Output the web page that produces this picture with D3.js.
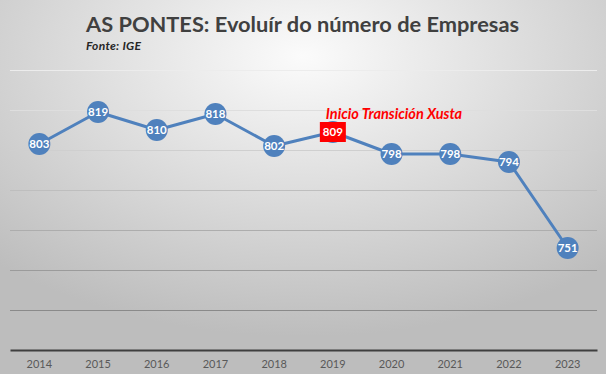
<!DOCTYPE html>
<html><head><meta charset="utf-8">
<script src="https://cdn.jsdelivr.net/npm/d3@7"></script>
<style>html,body{margin:0;padding:0;overflow:hidden;}svg{display:block;}</style>
</head><body>
<script>
const years = ["2014","2015","2016","2017","2018","2019","2020","2021","2022","2023"];
const empresas = [803, 819, 810, 818, 802, 809, 798, 798, 794, 751];
const yTicks = [700, 720, 740, 760, 780, 800, 820, 840];
const highlightYear = "2019";
const titleText = "AS PONTES: Evoluír do número de Empresas";
const subtitleText = "Fonte: IGE";
const annotationText = "Inicio Transición Xusta";

const W = 606, H = 374;
const svg = d3.select("body").append("svg").attr("width", W).attr("height", H);
const defs = svg.append("defs");
const rg = defs.append("radialGradient").attr("id","bg")
  .attr("cx","50%").attr("cy","15%").attr("r","75%")
  .attr("gradientUnits","objectBoundingBox");
rg.append("stop").attr("offset","0%").attr("stop-color","#fbfbfb");
rg.append("stop").attr("offset","100%").attr("stop-color","#bdbdbd");
svg.append("rect").attr("width",W).attr("height",H).attr("fill","url(#bg)");

const x = d3.scaleBand().domain(years).range([10, 597]);
const y = d3.scaleLinear().domain([700, 840]).range([350, 70]);
const gridColor = d3.scaleLinear().domain([840, 800, 720]).range(["#ececec", "#cfcfcf", "#8a8a8a"]);

// gridlines
svg.append("g").selectAll("line").data(yTicks.filter(v => v > 700)).join("line")
  .attr("x1", 10).attr("x2", 597)
  .attr("y1", d => Math.round(y(d)) + 0.5).attr("y2", d => Math.round(y(d)) + 0.5)
  .attr("stroke", d => gridColor(d)).attr("stroke-width", 1);

// x axis
const xAxis = svg.append("g").attr("transform", `translate(0,${y(700)})`)
  .call(d3.axisBottom(x).tickSize(0).tickPadding(10));
xAxis.select(".domain").attr("stroke", "#3f3f3f").attr("stroke-width", 2);
xAxis.selectAll("text").attr("font-family", "Lato, 'Open Sans', sans-serif")
  .attr("font-size", "11px").attr("fill", "#595959");

// line
const cx = d => x(d) + x.bandwidth() / 2;
svg.append("path").datum(years)
  .attr("fill", "none").attr("stroke", "#4f81bd").attr("stroke-width", 3)
  .attr("stroke-linejoin", "round")
  .attr("d", d3.line().x(d => cx(d)).y((d, i) => y(empresas[i])));

// markers
const pts = svg.append("g").selectAll("g").data(years).join("g")
  .attr("transform", (d, i) => `translate(${cx(d)},${y(empresas[i])})`);
pts.append("circle").attr("r", 11).attr("fill", "#4f81bd");
pts.filter(d => d === highlightYear).append("rect")
  .attr("x", -13).attr("y", -10).attr("width", 26).attr("height", 20).attr("fill", "#ff0000");
pts.append("text").text((d, i) => empresas[i])
  .attr("text-anchor", "middle").attr("dy", "0.36em")
  .attr("font-family", "Lato, 'Open Sans', sans-serif").attr("font-weight", "bold")
  .attr("font-size", "11.5px").attr("fill", "#ffffff");

// annotation
const hi = years.indexOf(highlightYear);
svg.append("text").text(annotationText)
  .attr("x", cx(highlightYear) - 7).attr("y", y(empresas[hi]) - 13)
  .attr("font-family", "Lato, 'Open Sans', sans-serif").attr("font-weight", "bold")
  .attr("font-style", "italic").attr("font-size", "14.5px").attr("fill", "#ff0000");

// title
svg.append("text").text(titleText)
  .attr("x", 86).attr("y", 32)
  .attr("font-family", "Lato, 'Open Sans', sans-serif").attr("font-weight", "bold")
  .attr("font-size", "21.8px").attr("fill", "#404040");
svg.append("text").text(subtitleText)
  .attr("x", 86).attr("y", 50)
  .attr("textLength", 55).attr("lengthAdjust", "spacing")
  .attr("font-family", "Lato, 'Open Sans', sans-serif").attr("font-weight", "bold")
  .attr("font-style", "italic").attr("font-size", "12px").attr("fill", "#262626");
</script>
</body></html>
